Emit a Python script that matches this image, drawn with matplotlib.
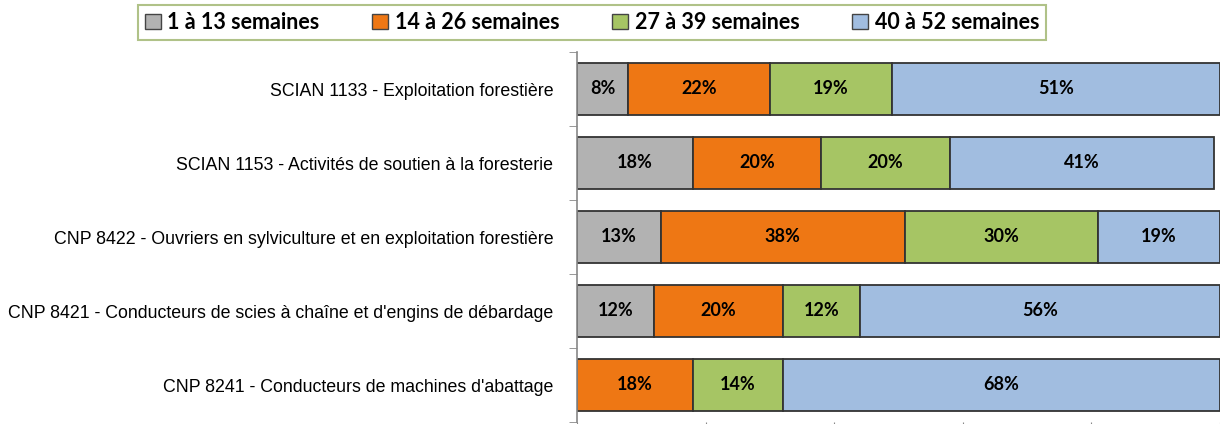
import matplotlib
matplotlib.use("Agg")
import matplotlib.pyplot as plt
import numpy as np

categories = [
    "SCIAN 1133 - Exploitation forestière",
    "SCIAN 1153 - Activités de soutien à la foresterie",
    "CNP 8422 - Ouvriers en sylviculture et en exploitation forestière",
    "CNP 8421 - Conducteurs de scies à chaîne et d'engins de débardage",
    "CNP 8241 - Conducteurs de machines d'abattage",
]
series_names = ["1 à 13 semaines", "14 à 26 semaines", "27 à 39 semaines", "40 à 52 semaines"]
s1 = [8, 18, 13, 12, 0]
s2 = [22, 20, 38, 20, 18]
s3 = [19, 20, 30, 12, 14]
s4 = [51, 41, 19, 56, 68]
colors = ["#B2B2B2", "#EE7714", "#A6C564", "#A1BDE0"]

fig = plt.figure(figsize=(12.2, 4.24), dpi=100)
ax = fig.add_axes([577/1220, 1-422/424, (1220-577)/1220, (422-52)/424])

y = np.arange(len(categories))
left = np.zeros(len(categories))
handles = []
for vals, col, name in zip([s1, s2, s3, s4], colors, series_names):
    vals = np.array(vals, dtype=float)
    bars = ax.barh(y, vals, left=left, height=0.69, color=col,
                   edgecolor="#333333", linewidth=1.3, label=name)
    handles.append(bars)
    for yi, (l, v) in enumerate(zip(left, vals)):
        if v > 0:
            ax.text(l + v/2, yi, f"{int(v)}%", ha="center", va="center",
                    fontsize=13, fontweight="bold", family="Lato", color="black")
    left += vals

ax.set_xlim(0, 100)
ax.set_ylim(len(categories) - 0.5, -0.5)
ax.set_yticks(y)
ax.set_yticklabels(categories, family=["Liberation Sans", "DejaVu Sans"],
                   fontsize=12.8)
ax.set_yticks(np.arange(-0.5, len(categories), 1), minor=True)
ax.tick_params(axis="y", which="major", length=0, pad=17)
ax.tick_params(axis="y", which="minor", length=6, color="#888888", direction="out")
ax.set_xticks([0, 20, 40, 60, 80, 100])
ax.tick_params(axis="x", length=4, color="#888888", labelbottom=False)
for s in ["top", "right", "bottom"]:
    ax.spines[s].set_visible(False)
ax.spines["left"].set_color("#888888")
ax.spines["left"].set_linewidth(1.2)

leg = fig.legend(handles=handles, labels=series_names, ncol=4,
                 loc="center", bbox_to_anchor=(592/1220, 1-22.5/424),
                 prop={"family": "Lato", "weight": "bold", "size": 15.5},
                 frameon=True, fancybox=False, edgecolor="#9DB36A",
                 handlelength=0.75, handleheight=0.75, handletextpad=0.3,
                 columnspacing=2.45, borderpad=0.33, borderaxespad=0)
leg.get_frame().set_linewidth(1.5)
for h in leg.legend_handles:
    h.set_edgecolor("#444444")
    h.set_linewidth(1.0)

fig.savefig("out.png", dpi=100)
